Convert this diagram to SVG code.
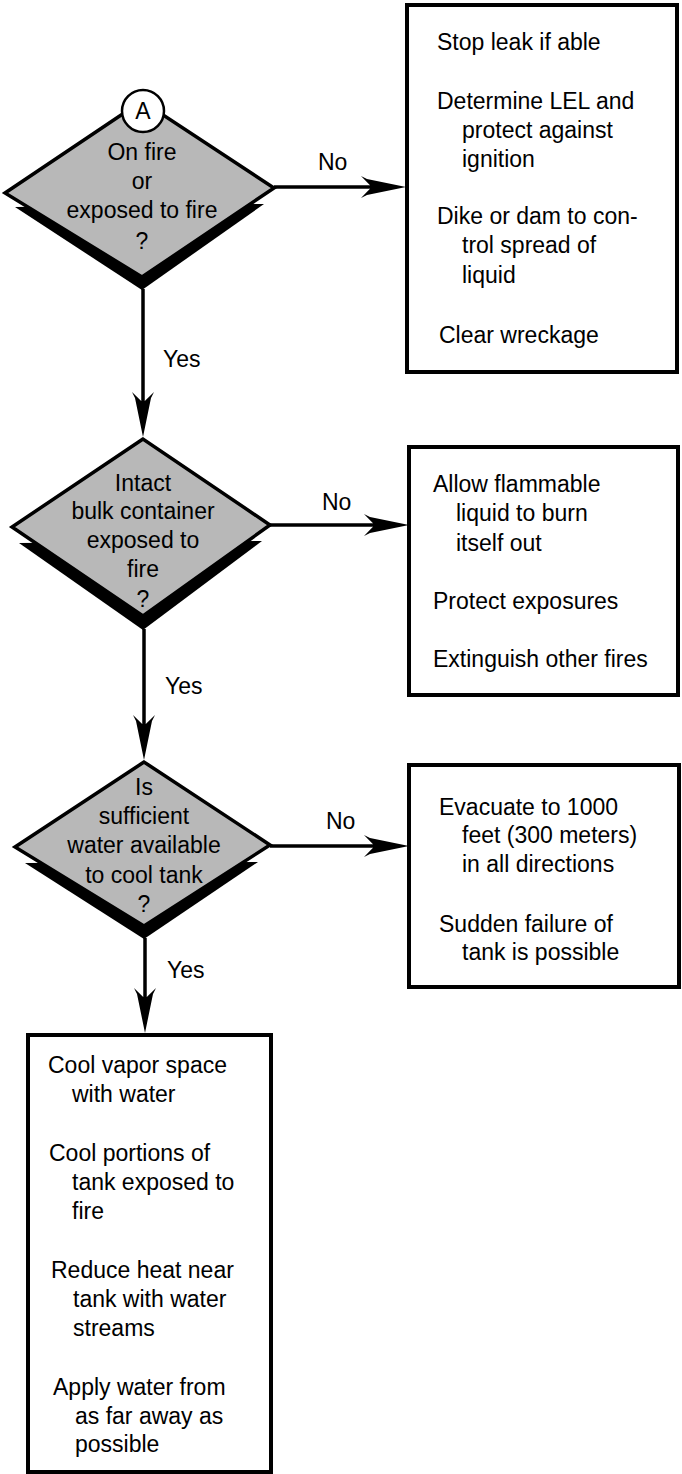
<svg xmlns="http://www.w3.org/2000/svg" width="682" height="1474" viewBox="0 0 682 1474">
  <style>
    .t { font-family: "Liberation Sans", Arial, sans-serif; font-size: 23px; fill: #000; }
    .c { text-anchor: middle; }
    .box { fill: #fff; stroke: #000; stroke-width: 4; }
    .dia { fill: #b8b8b8; stroke: #000; stroke-width: 3.5; stroke-linejoin: miter; }
    .shadow { fill: #000; }
    .line { fill: none; stroke: #000; stroke-width: 3.5; }
    .arrow { marker-end: url(#head); }
  </style>
  <defs>
    <!-- barbed, narrow arrowhead; tip sits 10 units past the line end -->
    <marker id="head" markerUnits="userSpaceOnUse" markerWidth="52" markerHeight="24"
            refX="38" refY="12" orient="auto" overflow="visible">
      <path d="M48,12 L9,4 L3,1 L12,10.2 L12,13.8 L3,23 L9,20 Z" fill="#000"/>
    </marker>
  </defs>

  <rect width="682" height="1474" fill="#fff"/>

  <!-- connectors -->
  <g id="connectors">
    <line class="line arrow" x1="143" y1="289" x2="143" y2="427"/>
    <line class="line arrow" x1="144" y1="629" x2="144" y2="750"/>
    <line class="line arrow" x1="145" y1="938" x2="145" y2="1023"/>
    <line class="line arrow" x1="274" y1="187" x2="396" y2="187"/>
    <line class="line arrow" x1="270" y1="525" x2="399" y2="525"/>
    <line class="line arrow" x1="270" y1="846" x2="399" y2="846"/>
    <text class="t" x="318" y="170">No</text>
    <text class="t" x="322" y="510">No</text>
    <text class="t" x="326" y="829">No</text>
    <text class="t" x="163" y="367">Yes</text>
    <text class="t" x="165" y="694">Yes</text>
    <text class="t" x="167" y="978">Yes</text>
  </g>

  <!-- decision: on fire -->
  <g id="decision-fire">
    <polygon class="shadow" points="15,207 264,204 142,290"/>
    <polygon class="dia" points="142,101 5,193 142,277 274,188"/>
    <text class="t c" x="142" y="160">On fire</text>
    <text class="t c" x="142" y="189">or</text>
    <text class="t c" x="142" y="218">exposed to fire</text>
    <text class="t c" x="142" y="249">?</text>
    <g id="connector-a">
      <circle cx="143" cy="111" r="21" fill="#fff" stroke="#000" stroke-width="2.5"/>
      <text class="t c" x="143" y="119" font-size="22">A</text>
    </g>
  </g>

  <!-- decision: intact bulk container -->
  <g id="decision-container">
    <polygon class="shadow" points="19,543 262,541 143,630"/>
    <polygon class="dia" points="143,439 12,527 143,616 270,525"/>
    <text class="t c" x="143" y="491">Intact</text>
    <text class="t c" x="143" y="519">bulk container</text>
    <text class="t c" x="143" y="548">exposed to</text>
    <text class="t c" x="143" y="577">fire</text>
    <text class="t c" x="143" y="607">?</text>
  </g>

  <!-- decision: sufficient water -->
  <g id="decision-water">
    <polygon class="shadow" points="25,863 258,862 144,939"/>
    <polygon class="dia" points="144,762 15,847 144,926 270,845"/>
    <text class="t c" x="144" y="795">Is</text>
    <text class="t c" x="144" y="824">sufficient</text>
    <text class="t c" x="144" y="853">water available</text>
    <text class="t c" x="144" y="883">to cool tank</text>
    <text class="t c" x="144" y="912">?</text>
  </g>

  <!-- action: leak, no fire -->
  <g id="action-leak">
    <rect class="box" x="407" y="5" width="270" height="367"/>
    <text class="t">
      <tspan x="437" y="50">Stop leak if able</tspan>
      <tspan x="437" y="109">Determine LEL and</tspan>
      <tspan x="462" y="138">protect against</tspan>
      <tspan x="462" y="167">ignition</tspan>
      <tspan x="437" y="224">Dike or dam to con-</tspan>
      <tspan x="462" y="253">trol spread of</tspan>
      <tspan x="462" y="283">liquid</tspan>
      <tspan x="439" y="343">Clear wreckage</tspan>
    </text>
  </g>

  <!-- action: let it burn -->
  <g id="action-burn">
    <rect class="box" x="409" y="447" width="269" height="248"/>
    <text class="t">
      <tspan x="433" y="492">Allow flammable</tspan>
      <tspan x="456" y="521">liquid to burn</tspan>
      <tspan x="456" y="551">itself out</tspan>
      <tspan x="433" y="609">Protect exposures</tspan>
      <tspan x="433" y="667">Extinguish other fires</tspan>
    </text>
  </g>

  <!-- action: evacuate -->
  <g id="action-evacuate">
    <rect class="box" x="409" y="765" width="270" height="222"/>
    <text class="t">
      <tspan x="439" y="815">Evacuate to 1000</tspan>
      <tspan x="462" y="843">feet (300 meters)</tspan>
      <tspan x="462" y="872">in all directions</tspan>
      <tspan x="439" y="932">Sudden failure of</tspan>
      <tspan x="462" y="960">tank is possible</tspan>
    </text>
  </g>

  <!-- action: cool the tank -->
  <g id="action-cool">
    <rect class="box" x="28" y="1035" width="243" height="437"/>
    <text class="t">
      <tspan x="48" y="1073">Cool vapor space</tspan>
      <tspan x="72" y="1102">with water</tspan>
      <tspan x="49" y="1161">Cool portions of</tspan>
      <tspan x="72" y="1190">tank exposed to</tspan>
      <tspan x="72" y="1219">fire</tspan>
      <tspan x="51" y="1278">Reduce heat near</tspan>
      <tspan x="73" y="1307">tank with water</tspan>
      <tspan x="73" y="1336">streams</tspan>
      <tspan x="53" y="1395">Apply water from</tspan>
      <tspan x="75" y="1424">as far away as</tspan>
      <tspan x="75" y="1452">possible</tspan>
    </text>
  </g>
</svg>
